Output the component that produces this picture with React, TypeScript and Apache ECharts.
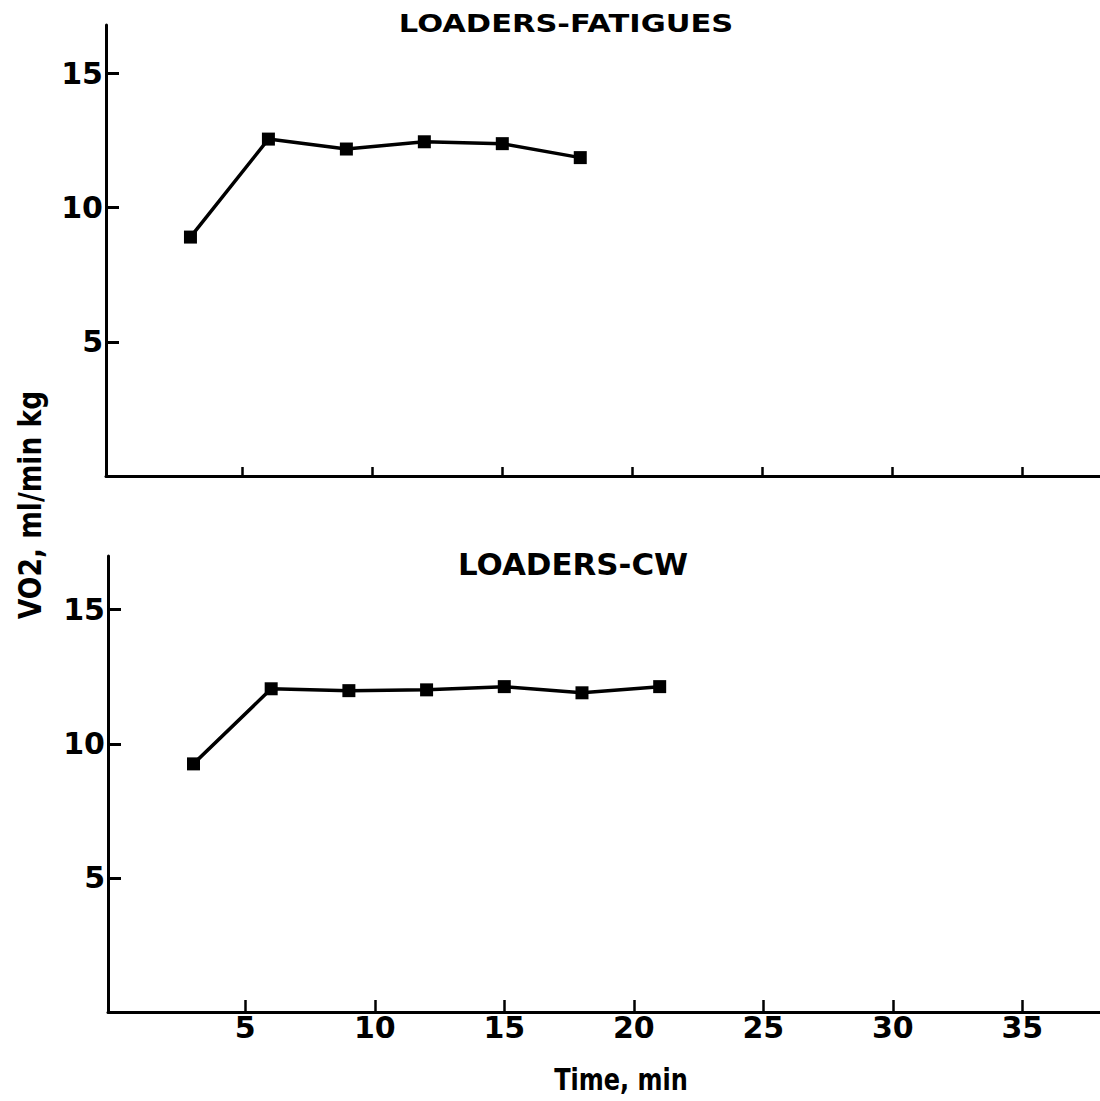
import React, { useEffect, useRef } from 'react';
import * as echarts from 'echarts';

const timeFatigues = [3, 6, 9, 12, 15, 18];
const vo2Fatigues = [8.9, 12.55, 12.18, 12.45, 12.38, 11.86];
const timeCW = [3, 6, 9, 12, 15, 18, 21];
const vo2CW = [9.25, 12.05, 11.98, 12.01, 12.13, 11.9, 12.13];
const xTicks = [5, 10, 15, 20, 25, 30, 35];
const yTicks = [5, 10, 15];
const panelTitles = ['LOADERS-FATIGUES', 'LOADERS-CW'];
const xName = 'Time, min';
const yName = 'VO2, ml/min kg';

const FONT = '"DejaVu Sans", sans-serif';

function xAxisCfg(gridIndex: number, min: number, showLabels: boolean, tickLen: number) {
  return {
    type: 'value',
    gridIndex,
    min,
    max: 38,
    axisLine: { onZero: false, lineStyle: { color: '#000', width: 3 } },
    axisTick: {
      show: true,
      inside: true,
      length: tickLen,
      customValues: xTicks,
      lineStyle: { color: '#000', width: 2.5 },
    },
    axisLabel: {
      show: showLabels,
      customValues: xTicks,
      color: '#000',
      fontSize: 30,
      fontWeight: 'bold',
      fontFamily: FONT,
      margin: 0,
    },
    splitLine: { show: false },
  };
}

function yAxisCfg(gridIndex: number, max: number) {
  return {
    type: 'value',
    gridIndex,
    min: 0,
    max,
    axisLine: { show: true, onZero: false, lineStyle: { color: '#000', width: 3 } },
    axisTick: {
      show: true,
      inside: true,
      length: 13,
      customValues: yTicks,
      lineStyle: { color: '#000', width: 3 },
    },
    axisLabel: {
      show: true,
      customValues: yTicks,
      color: '#000',
      fontSize: 30,
      fontWeight: 'bold',
      fontFamily: FONT,
      margin: 3,
    },
    splitLine: { show: false },
  };
}

function seriesCfg(idx: number, xs: number[], ys: number[]) {
  return {
    type: 'line',
    xAxisIndex: idx,
    yAxisIndex: idx,
    data: xs.map((x, i) => [x, ys[i]]),
    symbol: 'rect',
    symbolSize: 13,
    lineStyle: { color: '#000', width: 3.5 },
    itemStyle: { color: '#000' },
    silent: true,
  };
}

export default function App() {
  const ref = useRef<HTMLDivElement>(null);
  useEffect(() => {
    document.body.style.margin = '0';
    const chart = echarts.init(ref.current!, undefined, { renderer: 'svg' });
    chart.setOption({
      animation: false,
      backgroundColor: '#fff',
      grid: [
        { left: 106, top: 25, width: 994, height: 451 },
        { left: 108, top: 556, width: 992, height: 456 },
      ],
      xAxis: [xAxisCfg(0, -0.25, false, 9), xAxisCfg(1, -0.3, true, 12)],
      yAxis: [yAxisCfg(0, 16.8), yAxisCfg(1, 17)],
      series: [seriesCfg(0, timeFatigues, vo2Fatigues), seriesCfg(1, timeCW, vo2CW)],
      graphic: [
        {
          type: 'text',
          x: 566,
          y: 24,
          scaleX: 1.27,
          style: {
            text: panelTitles[0],
            fontSize: 24,
            fontWeight: 'bold',
            fontFamily: FONT,
            fill: '#000',
            align: 'center',
            verticalAlign: 'middle',
          },
        },
        {
          type: 'text',
          x: 573,
          y: 565,
          scaleX: 1.03,
          style: {
            text: panelTitles[1],
            fontSize: 30,
            fontWeight: 'bold',
            fontFamily: FONT,
            fill: '#000',
            align: 'center',
            verticalAlign: 'middle',
          },
        },
        {
          type: 'text',
          x: 621,
          y: 1080,
          scaleX: 0.8,
          style: {
            text: xName,
            fontSize: 30,
            fontWeight: 'bold',
            fontFamily: FONT,
            fill: '#000',
            align: 'center',
            verticalAlign: 'middle',
          },
        },
        {
          type: 'text',
          x: 30,
          y: 505,
          rotation: Math.PI / 2,
          scaleX: 0.83,
          style: {
            text: yName,
            fontSize: 32,
            fontWeight: 'bold',
            fontFamily: FONT,
            fill: '#000',
            align: 'center',
            verticalAlign: 'middle',
          },
        },
      ],
    });
    return () => chart.dispose();
  }, []);
  return <div ref={ref} style={{ width: 1100, height: 1101 }} />;
}
